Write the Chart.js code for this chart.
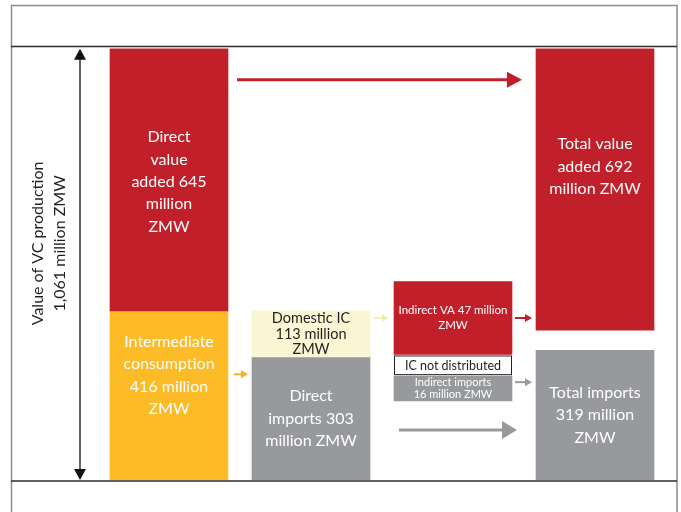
<!DOCTYPE html>
<html>
<head>
<meta charset="utf-8">
<script src="https://cdn.jsdelivr.net/npm/chart.js@4.4.1/dist/chart.umd.min.js"></script>
<style>
  html, body { margin: 0; padding: 0; background: #fff; }
  canvas { display: block; }
</style>
</head>
<body>
<canvas id="vc" width="681" height="512"></canvas>
<script>
// Value chain production and how it splits, million ZMW
const stages = ['Production', 'Intermediate consumption', 'Domestic IC', 'Totals'];
const production = 1061;
const valueAdded = [645, 47, 692];   // direct, indirect, total
const imports = [303, 16, 319];      // direct, indirect, total
const intermediate = [416, 113];     // all intermediate consumption, domestic IC

const RED = '#C1202A', YELLOW = '#FDBB27', PALE = '#FAF6D3', GREY = '#97999C', INK = '#231F20';
const SANS = 'Lato, "Open Sans", sans-serif';
const NOT_DISTRIBUTED_GAP = 14; // room on the detail axis for the "IC not distributed" box

const fmt = n => n.toLocaleString('en-US');
function at(i, v) { const a = [null, null, null, null]; a[i] = v; return a; }

const big = { size: 16, line: 22.3, color: '#fff' };

const datasets = [
  { label: 'Direct value added', backgroundColor: RED,
    data: at(0, [intermediate[0], intermediate[0] + valueAdded[0]]),
    lines: at(0, ['Direct', 'value', `added ${valueAdded[0]}`, 'million', 'ZMW']), txt: { ...big, shift: 2 } },
  { label: 'Intermediate consumption', backgroundColor: YELLOW,
    data: at(0, [0, intermediate[0]]),
    lines: at(0, ['Intermediate', 'consumption', `${intermediate[0]} million`, 'ZMW']), txt: { ...big, shift: -20 } },
  { label: 'Domestic IC', backgroundColor: PALE,
    data: at(1, [imports[0], imports[0] + intermediate[1]]),
    lines: at(1, ['Domestic IC', `${intermediate[1]} million`, 'ZMW']), txt: { size: 14.5, line: 15.5, color: INK } },
  { label: 'Direct imports', backgroundColor: GREY,
    data: at(1, [0, imports[0]]),
    lines: at(1, ['Direct', `imports ${imports[0]}`, 'million ZMW']), txt: { ...big } },
  { label: 'Indirect VA', backgroundColor: RED, yAxisID: 'detail',
    data: at(2, [imports[1] + NOT_DISTRIBUTED_GAP, imports[1] + NOT_DISTRIBUTED_GAP + valueAdded[1]]),
    lines: at(2, [`Indirect VA ${valueAdded[1]} million`, 'ZMW']), txt: { size: 11.5, line: 15, color: '#fff' } },
  { label: 'Indirect imports', backgroundColor: GREY, yAxisID: 'detail',
    data: at(2, [0, imports[1]]),
    lines: at(2, ['Indirect imports', `${imports[1]} million ZMW`]), txt: { size: 11, line: 12, color: '#fff' } },
  { label: 'Total value added', backgroundColor: RED,
    data: at(3, [production - valueAdded[2], production]),
    lines: at(3, ['Total value', `added ${valueAdded[2]}`, 'million ZMW']), txt: { ...big, shift: -23 } },
  { label: 'Total imports', backgroundColor: GREY,
    data: at(3, [0, imports[2]]),
    lines: at(3, ['Total imports', `${imports[2]} million`, 'ZMW']), txt: { ...big } },
];

function arrowRight(ctx, x1, y, x2, color, width, len, half) {
  ctx.save();
  ctx.strokeStyle = color; ctx.fillStyle = color; ctx.lineWidth = width;
  ctx.beginPath(); ctx.moveTo(x1, y); ctx.lineTo(x2 - len + 1, y); ctx.stroke();
  ctx.beginPath(); ctx.moveTo(x2, y); ctx.lineTo(x2 - len, y - half); ctx.lineTo(x2 - len, y + half); ctx.closePath(); ctx.fill();
  ctx.restore();
}

function doubleArrowV(ctx, x, y1, y2, color, width, len, half) {
  ctx.save();
  ctx.strokeStyle = color; ctx.fillStyle = color; ctx.lineWidth = width;
  ctx.beginPath(); ctx.moveTo(x, y1 + len - 1); ctx.lineTo(x, y2 - len + 1); ctx.stroke();
  ctx.beginPath(); ctx.moveTo(x, y1); ctx.lineTo(x - half, y1 + len); ctx.lineTo(x + half, y1 + len); ctx.closePath(); ctx.fill();
  ctx.beginPath(); ctx.moveTo(x, y2); ctx.lineTo(x - half, y2 - len); ctx.lineTo(x + half, y2 - len); ctx.closePath(); ctx.fill();
  ctx.restore();
}

// Page frame with the two rules that bound the diagram
const framePlugin = {
  id: 'frame',
  beforeDraw(chart) {
    const { ctx, chartArea, width, height } = chart;
    ctx.save();
    ctx.fillStyle = '#fff'; ctx.fillRect(0, 0, width, height);
    ctx.strokeStyle = '#8c8c8c'; ctx.lineWidth = 1.5;
    ctx.beginPath();
    ctx.moveTo(11.5, height); ctx.lineTo(11.5, 5.5); ctx.lineTo(677, 5.5); ctx.lineTo(677, height);
    ctx.stroke();
    ctx.strokeStyle = '#2b2b2b'; ctx.lineWidth = 1.5;
    ctx.beginPath();
    ctx.moveTo(11, chartArea.top + 0.5); ctx.lineTo(677, chartArea.top + 0.5);
    ctx.moveTo(11, chartArea.bottom + 1); ctx.lineTo(677, chartArea.bottom + 1);
    ctx.stroke();
    ctx.restore();
  }
};

// Block captions, flow arrows and the production bracket
const annotatePlugin = {
  id: 'annotate',
  afterDatasetsDraw(chart) {
    const { ctx, scales } = chart;
    const el = (d, i) => chart.getDatasetMeta(d).data[i];
    const left = e => e.x - e.width / 2, right = e => e.x + e.width / 2;

    // "IC not distributed" box between the indirect blocks
    const iva = el(4, 2), iim = el(5, 2);
    ctx.save();
    const bx = left(iva) + 0.5, bw = iva.width - 1;
    const by = iva.base + 1.5, bh = iim.y - 1.5 - by;
    ctx.fillStyle = '#fff'; ctx.fillRect(bx, by, bw, bh);
    ctx.strokeStyle = INK; ctx.lineWidth = 1; ctx.strokeRect(bx, by, bw, bh);
    ctx.fillStyle = INK; ctx.font = `12.5px ${SANS}`;
    ctx.textAlign = 'center'; ctx.textBaseline = 'middle';
    ctx.fillText('IC not distributed', iva.x, by + bh / 2 + 0.5);
    ctx.restore();

    // captions inside each block
    chart.data.datasets.forEach((ds, di) => {
      chart.getDatasetMeta(di).data.forEach((e, i) => {
        const lines = ds.lines && ds.lines[i];
        if (!lines) return;
        const t = ds.txt;
        const cy = (e.y + e.base) / 2 + (t.shift || 0);
        ctx.save();
        ctx.font = `${t.size}px ${SANS}`; ctx.fillStyle = t.color;
        ctx.textAlign = 'center'; ctx.textBaseline = 'middle';
        lines.forEach((ln, k) => ctx.fillText(ln, e.x, cy + (k - (lines.length - 1) / 2) * t.line));
        ctx.restore();
      });
    });

    const dva = el(0, 0), dic = el(2, 1), dim = el(3, 1), tva = el(6, 3), tim = el(7, 3);
    const y = scales.y;

    // value added flows straight across
    arrowRight(ctx, right(dva) + 9, y.getPixelForValue(985), left(tva) - 14, RED, 3, 15, 8);
    // intermediate consumption into its split
    arrowRight(ctx, right(dva) + 6, y.getPixelForValue(260), left(dim) - 4, '#F9B121', 2, 7, 4);
    // domestic IC into its indirect breakdown
    const redMid = (iva.y + iva.base) / 2;
    arrowRight(ctx, right(dic) + 4, redMid, left(iva) - 5, '#F2ECB6', 2, 7, 4);
    arrowRight(ctx, right(iva) + 3, redMid, left(tva) - 4, RED, 2, 7, 4);
    arrowRight(ctx, right(iim) + 3, iim.y + 6, left(tim) - 4, GREY, 2, 7, 4);
    // direct imports across to total imports
    arrowRight(ctx, left(iim) + 5, y.getPixelForValue(123), right(iim) + 5, GREY, 3, 15, 9);

    // production bracket
    const bxV = chart.chartArea.left - 18;
    doubleArrowV(ctx, bxV, y.getPixelForValue(production), y.getPixelForValue(0), '#111', 1.3, 11, 6);

    ctx.save();
    ctx.translate(49, (y.getPixelForValue(production) + y.getPixelForValue(0)) / 2 - 21);
    ctx.rotate(-Math.PI / 2);
    ctx.fillStyle = INK; ctx.font = `16px ${SANS}`;
    ctx.textAlign = 'center'; ctx.textBaseline = 'middle';
    ctx.fillText('Value of VC production', 0, -11);
    ctx.fillText(`${fmt(production)} million ZMW`, 0, 11);
    ctx.restore();
  }
};

new Chart(document.getElementById('vc'), {
  type: 'bar',
  data: {
    labels: stages,
    datasets: datasets.map(d => ({ ...d, grouped: false, barThickness: 118, borderWidth: 0 }))
  },
  options: {
    responsive: false,
    animation: false,
    layout: { padding: { left: 98, right: 15, top: 46, bottom: 32 } },
    plugins: { legend: { display: false }, tooltip: { enabled: false } },
    scales: {
      x: { type: 'category', display: false, offset: true },
      y: { type: 'linear', display: false, min: 0, max: 1068 },
      detail: { type: 'linear', axis: 'y', position: 'right', display: false, min: -51, max: 229 }
    }
  },
  plugins: [framePlugin, annotatePlugin]
});
</script>
</body>
</html>
